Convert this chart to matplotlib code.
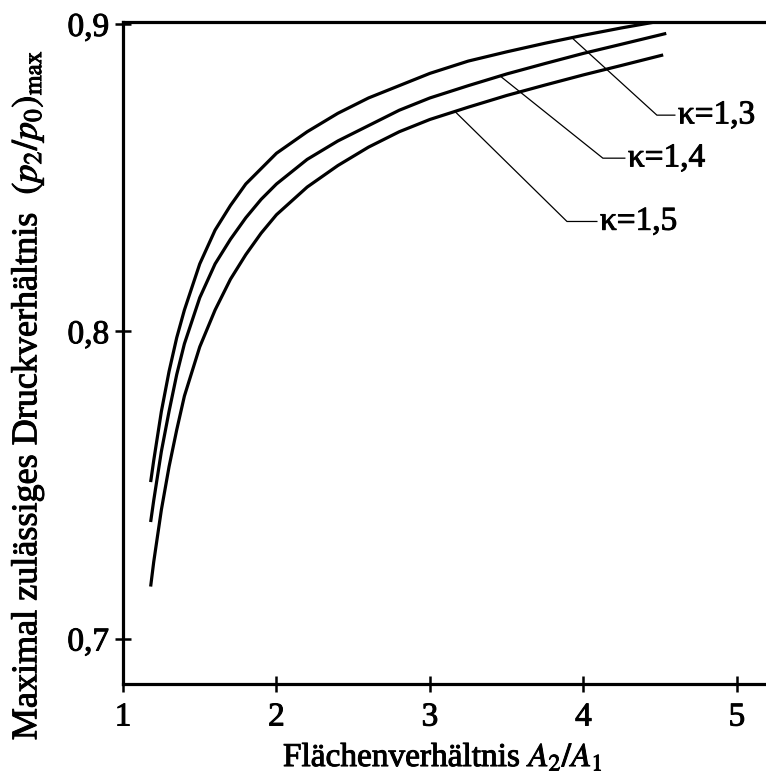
import matplotlib
matplotlib.use("Agg")
import matplotlib.pyplot as plt
import matplotlib.patheffects as pe

# values
x_k13 = [1.18, 1.2, 1.25, 1.3, 1.35, 1.4, 1.5, 1.6, 1.7, 1.8, 1.9, 2.0,
         2.2, 2.4, 2.6, 2.8, 3.0, 3.25, 3.5, 3.75, 4.0, 4.25, 4.5]
y_k13 = [0.751, 0.758, 0.774, 0.787, 0.798, 0.807, 0.822, 0.833, 0.841, 0.848, 0.853, 0.858,
         0.865, 0.871, 0.876, 0.880, 0.884, 0.888, 0.891, 0.8938, 0.8964, 0.8988, 0.901]

x_k14 = [1.18, 1.2, 1.25, 1.3, 1.35, 1.4, 1.5, 1.6, 1.7, 1.8, 1.9, 2.0,
         2.2, 2.4, 2.6, 2.8, 3.0, 3.25, 3.5, 3.75, 4.0, 4.25, 4.54]
y_k14 = [0.738, 0.745, 0.761, 0.774, 0.786, 0.796, 0.811, 0.822, 0.830, 0.837, 0.843, 0.848,
         0.856, 0.862, 0.867, 0.872, 0.876, 0.880, 0.8838, 0.8872, 0.8905, 0.8935, 0.897]

x_k15 = [1.18, 1.2, 1.25, 1.3, 1.35, 1.4, 1.5, 1.6, 1.7, 1.8, 1.9, 2.0,
         2.2, 2.4, 2.6, 2.8, 3.0, 3.25, 3.5, 3.75, 4.0, 4.25, 4.52]
y_k15 = [0.717, 0.725, 0.742, 0.756, 0.768, 0.779, 0.795, 0.807, 0.817, 0.825, 0.832, 0.838,
         0.847, 0.854, 0.860, 0.865, 0.869, 0.873, 0.8768, 0.8802, 0.8835, 0.8866, 0.890]

labels = ["κ=1,3", "κ=1,4", "κ=1,5"]
# leader lines: point on curve, elbow, end of horizontal part
leaders = [
    ((3.925, 0.8956), (4.479, 0.8704), (4.596, 0.8704)),
    ((3.456, 0.8832), (4.127, 0.8564), (4.270, 0.8564)),
    ((3.163, 0.8716), (3.893, 0.8358), (4.088, 0.8358)),
]

x_ticks = [1, 2, 3, 4, 5]
x_ticklabels = ["1", "2", "3", "4", "5"]
y_ticks = [0.7, 0.8, 0.9]
y_ticklabels = ["0,7", "0,8", "0,9"]

plt.rcParams["font.family"] = ["Liberation Serif", "DejaVu Serif"]
plt.rcParams["mathtext.fontset"] = "stix"

heavy = [pe.withStroke(linewidth=0.7, foreground="black")]

fig = plt.figure(figsize=(7.66, 7.76), dpi=100)
ax = fig.add_axes([0.1606, 0.1186, 0.8394, 0.8530])

for xs, ys in [(x_k13, y_k13), (x_k14, y_k14), (x_k15, y_k15)]:
    ax.plot(xs, ys, color="black", lw=2.3, solid_capstyle="butt")

for (p0, p1, p2), lab in zip(leaders, labels):
    ax.plot([p0[0], p1[0], p2[0]], [p0[1], p1[1], p2[1]], color="black", lw=0.9)
    ax.text(p2[0] + 0.02, p2[1], lab, ha="left", va="center", fontsize=24,
            path_effects=heavy)

ax.set_xlim(1, 5.19)
ax.set_ylim(0.6853, 0.9007)
ax.set_xticks(x_ticks)
ax.set_xticklabels(x_ticklabels)
ax.set_yticks(y_ticks)
ax.set_yticklabels(y_ticklabels)
ax.tick_params(direction="inout", length=12, width=1.8, labelsize=24)
ax.tick_params(axis="x", pad=7)
ax.tick_params(axis="y", pad=4)
for t in ax.get_xticklabels() + ax.get_yticklabels():
    t.set_path_effects(heavy)

ax.spines["right"].set_visible(False)
for s in ["left", "top", "bottom"]:
    ax.spines[s].set_linewidth(2.3)

fig.text(443 / 766, 1 - 757 / 776, "Flächenverhältnis $A_2/A_1$",
         ha="center", va="center", fontsize=24, path_effects=heavy)
fig.text(28 / 766, 1 - 395 / 776,
         "Maximal zulässiges Druckverhältnis  $(p_2/p_0)_{\\rm max}$",
         ha="center", va="center", rotation=90, fontsize=26, path_effects=heavy)

fig.savefig("out.png", dpi=100)
